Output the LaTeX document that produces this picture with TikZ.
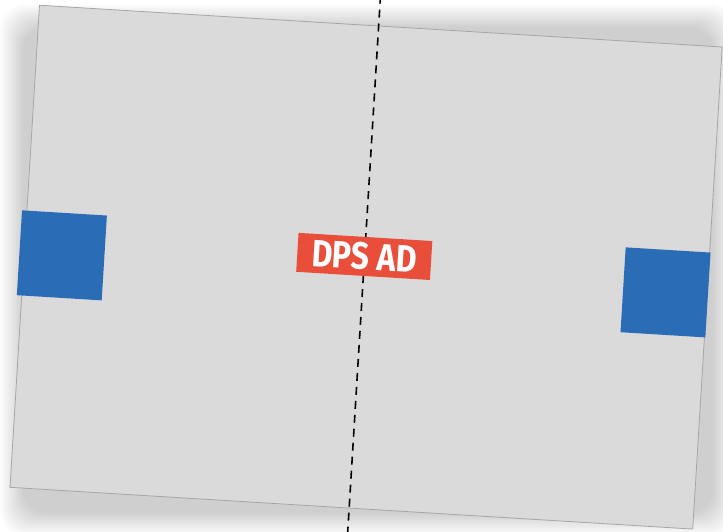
\documentclass[tikz,border=0pt]{standalone}
\usepackage{fontspec}
\newfontfamily\adfont[FakeStretch=0.84]{Fira Sans}
\definecolor{papergray}{HTML}{DADADA}
\definecolor{edgegray}{HTML}{A6A6A6}
\definecolor{tabblue}{HTML}{2A6CB6}
\definecolor{adred}{HTML}{E94E3B}
\begin{document}
\begin{tikzpicture}[x=1pt,y=-1pt]
    % Define styles
    \tikzset{
      paper/.style={rectangle, draw=edgegray, line width=0.8pt, fill=papergray,
                    minimum width=684pt, minimum height=483pt, inner sep=0pt},
      tab/.style={rectangle, fill=tabblue, minimum size=85pt, inner sep=0pt},
      adlabel/.style={rectangle, fill=adred, text=white, minimum width=134pt, minimum height=39pt,
                      inner sep=0pt, font=\adfont\bfseries\fontsize{38}{38}\selectfont},
      fold/.style={line width=1.6pt, dash pattern=on 8pt off 6pt}
    }
    \useasboundingbox (0,0) rectangle (723,531);
    \clip (0,0) rectangle (723,531);

    % Soft shadow behind the sheet
    \foreach \s in {0,...,23}
      \fill[black, opacity=0.009, rounded corners=24pt] (\s,4+\s) rectangle (736-\s,536-\s);

    % Tilted sheet
    \begin{scope}[shift={(366.1,267.15)}, rotate=-3.5, transform shape]
      \node[paper] (sheet) at (0,0) {};
      \node[tab] (lefttab) at (-304.4,6.8) {};
      \node[tab] (righttab) at (300.4,6.9) {};

      % Fold line
      \coordinate (foldtop) at (-2.2,-300);
      \coordinate (foldbot) at (-2.2,300);
      \draw[fold] (foldtop) -- (foldbot);

      % Label
      \node[adlabel] (ad) at (-2.5,-10.6) {DPS AD};
    \end{scope}
\end{tikzpicture}
\end{document}
